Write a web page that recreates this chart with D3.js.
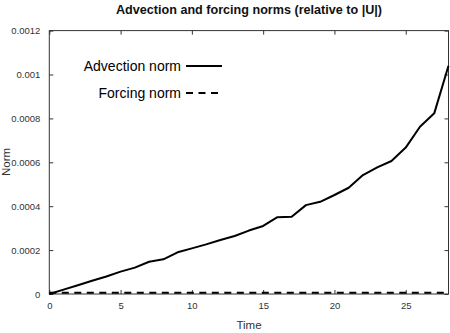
<!DOCTYPE html>
<html><head><meta charset="utf-8">
<script src="https://cdn.jsdelivr.net/npm/d3@7"></script>
<style>body{margin:0;background:#fff}svg{display:block}text{font-family:"Liberation Sans",Arial,sans-serif}</style>
</head><body><svg id="c" width="450" height="333"></svg>
<script>
const times = d3.range(0, 29);
const advection = [0, 0.00002, 0.00004, 0.00006, 0.00008, 0.000102, 0.00012, 0.000147, 0.000158, 0.00019,
  0.000208, 0.000226, 0.000246, 0.000264, 0.000289, 0.00031, 0.00035, 0.000352, 0.000405, 0.00042,
  0.000451, 0.000484, 0.000542, 0.000577, 0.000606, 0.000667, 0.000762, 0.000823, 0.00104];
const forcing = [0.000006, 0.000006, 0.000006, 0.000006, 0.000006, 0.000006, 0.000006, 0.000006, 0.000006, 0.000006,
  0.000006, 0.000006, 0.000006, 0.000006, 0.000006, 0.000006, 0.000006, 0.000006, 0.000006, 0.000006,
  0.000006, 0.000006, 0.000006, 0.000006, 0.000006, 0.000006, 0.000006, 0.000006, 0.000006];
const xTicks = [0, 5, 10, 15, 20, 25];
const yTicks = [0, 0.0002, 0.0004, 0.0006, 0.0008, 0.001, 0.0012];
const yTickLabels = ["0", "0.0002", "0.0004", "0.0006", "0.0008", "0.001", "0.0012"];
const seriesNames = ["Advection norm", "Forcing norm"];

const svg = d3.select("#c");
const L = 49.3, R = 448.5, T = 30.6, B = 294;
const x = d3.scaleLinear().domain([0, 28]).range([L, R]);
const y = d3.scaleLinear().domain([0, 0.0012]).range([B, T]);

svg.append("text").attr("x", 249).attr("y", 14).attr("text-anchor", "middle")
  .attr("font-size", 12.6).attr("font-weight", "bold").attr("fill", "#111")
  .text("Advection and forcing norms (relative to |U|)");

// axes with inward ticks
const tickLen = 4;
const gB = svg.append("g").attr("transform", `translate(0,${B})`)
  .call(d3.axisBottom(x).tickValues(xTicks).tickSizeInner(-tickLen).tickSizeOuter(0).tickPadding(8).tickFormat(d3.format("d")));
const gT = svg.append("g").attr("transform", `translate(0,${T})`)
  .call(d3.axisTop(x).tickValues(xTicks).tickSizeInner(-tickLen).tickSizeOuter(0).tickFormat(""));
const gL = svg.append("g").attr("transform", `translate(${L},0)`)
  .call(d3.axisLeft(y).tickValues(yTicks).tickSizeInner(-tickLen).tickSizeOuter(0).tickPadding(9).tickFormat((d, i) => yTickLabels[i]));
const gR = svg.append("g").attr("transform", `translate(${R},0)`)
  .call(d3.axisRight(y).tickValues(yTicks).tickSizeInner(-tickLen).tickSizeOuter(0).tickFormat(""));
[gB, gT, gL, gR].forEach(g => {
  g.select(".domain").remove();
  g.selectAll("line").attr("stroke", "#333");
  g.selectAll("text").attr("font-size", 9.5).attr("fill", "#333").attr("font-family", "\"Liberation Sans\",Arial,sans-serif");
});

svg.append("rect").attr("x", L).attr("y", T).attr("width", R - L).attr("height", B - T)
  .attr("fill", "none").attr("stroke", "#333").attr("stroke-width", 1);

const line = d3.line().x((d, i) => x(times[i])).y(d => y(d));
svg.append("path").datum(advection).attr("d", line).attr("fill", "none")
  .attr("stroke", "#000").attr("stroke-width", 2).attr("stroke-linejoin", "round");
svg.append("path").datum(forcing).attr("d", line).attr("fill", "none")
  .attr("stroke", "#000").attr("stroke-width", 2).attr("stroke-dasharray", "7,5.5");

// legend
const leg = [{name: seriesNames[0], y: 66, dash: null}, {name: seriesNames[1], y: 93, dash: "7,5.5"}];
leg.forEach(d => {
  svg.append("text").attr("x", 181).attr("y", d.y + 5).attr("text-anchor", "end")
    .attr("font-size", 14).attr("fill", "#000").text(d.name);
  svg.append("line").attr("x1", 186).attr("x2", 222).attr("y1", d.y).attr("y2", d.y)
    .attr("stroke", "#000").attr("stroke-width", 2).attr("stroke-dasharray", d.dash);
});

svg.append("text").attr("x", 249).attr("y", 329).attr("text-anchor", "middle")
  .attr("font-size", 11.5).attr("fill", "#333").text("Time");
svg.append("text").attr("transform", "translate(10,162) rotate(-90)").attr("text-anchor", "middle")
  .attr("font-size", 11.5).attr("fill", "#333").text("Norm");
</script></body></html>
